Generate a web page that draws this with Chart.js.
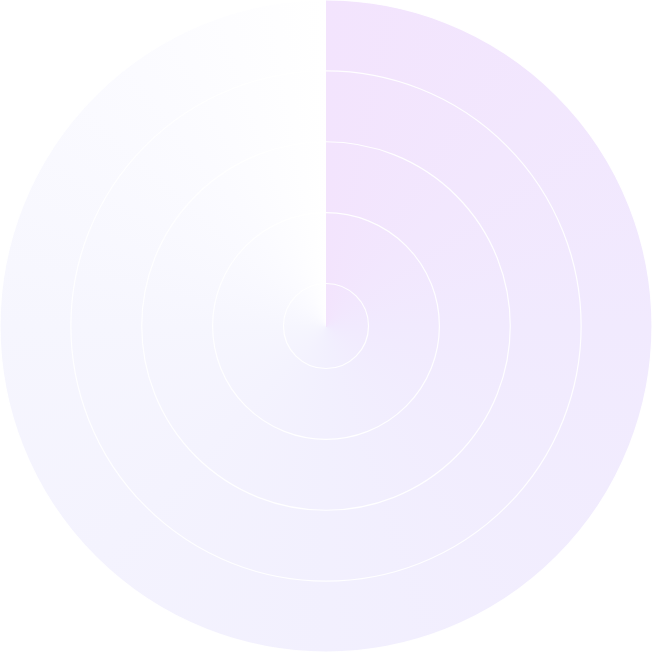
<!DOCTYPE html>
<html>
<head>
<meta charset="utf-8">
<script src="https://cdn.jsdelivr.net/npm/chart.js@4/dist/chart.umd.min.js"></script>
<style>
    html, body { margin: 0; padding: 0; background: #fff; }
    #wrap { width: 653px; height: 653px; }
</style>
</head>
<body>
<div id="wrap"><canvas id="polar-chart"></canvas></div>
<script>
// data
var labels = ["Total"];
var values = [100];
var scaleMin = 8;
var scaleMax = 100;
var scaleStep = 20;

// colours going clockwise from 12 o'clock
var gradientStops = ["#f3e4fd", "#f1eafe", "#f2f0fe", "#f6f6fe", "#fbfbff", "#ffffff"];

function conicFill(context) {
    var chart = context.chart;
    var area = chart.chartArea;
    if (!area) {
        return gradientStops[2];
    }
    var cx = (area.left + area.right) / 2;
    var cy = (area.top + area.bottom) / 2;
    var g = chart.ctx.createConicGradient(-Math.PI / 2, cx, cy);
    var offsets = [0, 0.25, 0.5, 0.75, 0.9, 1];
    gradientStops.forEach(function(c, i) {
        g.addColorStop(offsets[i], c);
    });
    return g;
}

var ctx = document.getElementById("polar-chart").getContext("2d");
var myChart = new Chart(ctx, {
    type: "polarArea",
    data: {
        labels: labels,
        datasets: [
            {
                data: values,
                backgroundColor: conicFill,
                borderWidth: 0
            }
        ]
    },
    options: {
        responsive: true,
        maintainAspectRatio: false,
        animation: false,
        plugins: {
            legend: { display: false },
            tooltip: { enabled: false }
        },
        scales: {
            r: {
                min: scaleMin,
                max: scaleMax,
                ticks: { display: false, stepSize: scaleStep },
                // rings sit over the fill
                grid: { color: "rgba(255, 255, 255, 0.95)", lineWidth: 1.2, z: 1 },
                pointLabels: { display: false }
            }
        }
    }
});
</script>
</body>
</html>
